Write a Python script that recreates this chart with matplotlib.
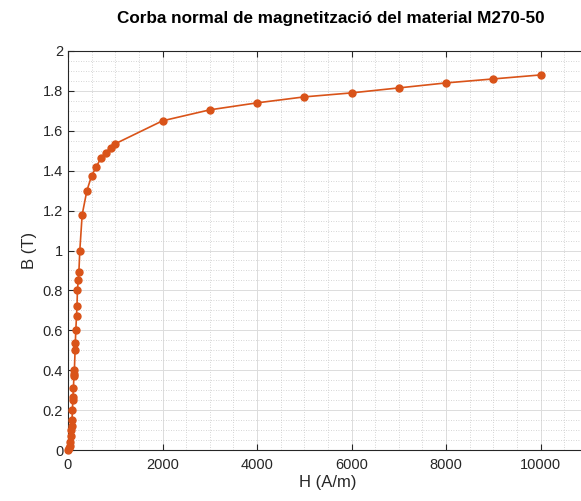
import matplotlib
matplotlib.use("Agg")
import matplotlib.pyplot as plt
from matplotlib.ticker import MultipleLocator

H = [0, 30, 40, 50, 60, 70, 75, 85, 95, 100, 105, 115, 125, 130, 135, 150, 155, 165,
     180, 190, 200, 215, 230, 250, 300, 400, 500, 600, 700, 800, 900, 1000,
     2000, 3000, 4000, 5000, 6000, 7000, 8000, 9000, 10000]
B = [0, 0.01, 0.02, 0.04, 0.07, 0.10, 0.12, 0.15, 0.20, 0.25, 0.265, 0.31, 0.37, 0.38, 0.40,
     0.50, 0.535, 0.60, 0.67, 0.72, 0.80, 0.85, 0.89, 1.00, 1.18, 1.30, 1.375, 1.42, 1.465,
     1.49, 1.515, 1.535, 1.65, 1.705, 1.74, 1.77, 1.79, 1.815, 1.84, 1.86, 1.88]

x_ticks = [0, 2000, 4000, 6000, 8000, 10000]
y_ticks = [0, 0.2, 0.4, 0.6, 0.8, 1, 1.2, 1.4, 1.6, 1.8, 2]

plt.rcParams['font.family'] = ['Liberation Sans', 'DejaVu Sans']
color = '#D95319'

fig = plt.figure(figsize=(5.81, 5.01), dpi=100)
ax = fig.add_axes([68/581, 1-450/501, 1-68/581+0.01, (450-51)/501])
ax.plot(H, B, '-o', color=color, lw=1.2, markersize=5, clip_on=False, zorder=3)

ax.set_xlim(0, 10980)
ax.set_ylim(0, 2)
ax.set_xticks(x_ticks)
ax.set_xticklabels([str(v) for v in x_ticks])
ax.set_yticks(y_ticks)
ax.set_yticklabels(['0', '0.2', '0.4', '0.6', '0.8', '1', '1.2', '1.4', '1.6', '1.8', '2'])
ax.xaxis.set_minor_locator(MultipleLocator(500))
ax.yaxis.set_minor_locator(MultipleLocator(0.05))
ax.grid(which='major', color='#dcdcdc', lw=0.7)
ax.grid(which='minor', color='#c8c8c8', lw=0.6, ls=(0, (1, 2)))
ax.set_axisbelow(True)
ax.tick_params(which='both', direction='in', top=True, right=False, labelsize=10.5, colors='#262626', length=4)
ax.tick_params(which='minor', length=0)
ax.tick_params(axis='x', pad=6)
for s in ['left', 'bottom', 'top']:
    ax.spines[s].set_color('#262626')
    ax.spines[s].set_linewidth(0.8)
ax.spines['right'].set_visible(False)
ax.set_xlabel('H (A/m)', fontsize=12, color='#262626', labelpad=2)
ax.set_ylabel('B (T)', fontsize=12, color='#262626', labelpad=4)
fig.text(331/581, 1-18/501, 'Corba normal de magnetització del material M270-50',
         ha='center', va='center', fontsize=12.3, fontweight='bold')

fig.savefig('out.png', dpi=100, facecolor='white')
